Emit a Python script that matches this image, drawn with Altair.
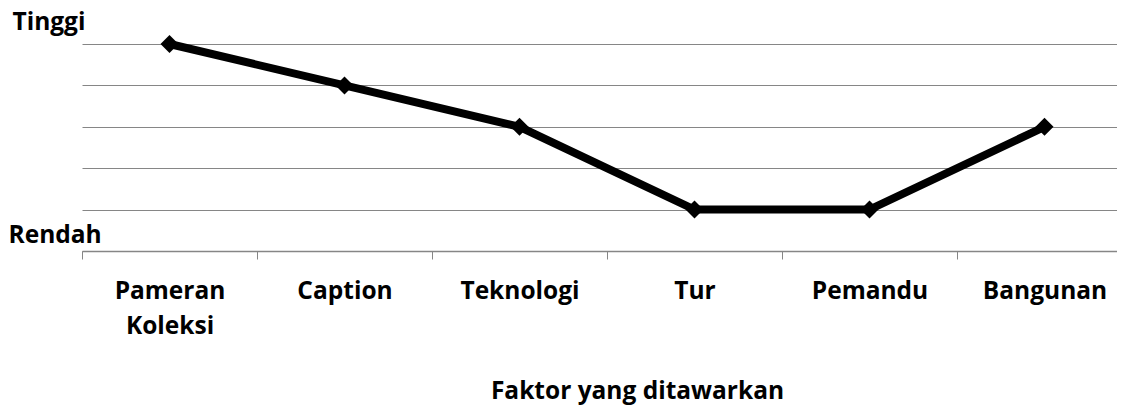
import altair as alt
import pandas as pd

categories = ["Pameran Koleksi", "Caption", "Teknologi", "Tur", "Pemandu", "Bangunan"]
values = [5, 4, 3, 1, 1, 3]
y_ticks = [0, 1, 2, 3, 4, 5]
y_top_label = "Tinggi"
y_bottom_label = "Rendah"
x_title = "Faktor yang ditawarkan"

df = pd.DataFrame({"faktor": categories, "nilai": values})

FONT = "Open Sans"
FS = 24.5
GRAY = "#868686"

x = alt.X(
    "faktor:N",
    sort=categories,
    title=x_title,
    scale=alt.Scale(type="band", paddingInner=0, paddingOuter=0, range=[0, 1050]),
    axis=alt.Axis(
        labelAngle=0,
        tickBand="extent",
        labelExpr="split(datum.label, ' ')",
        labelLineHeight=35,
        labelBaseline="alphabetic",
        labelPadding=39,
        labelOverlap=False,
        labelFont=FONT,
        labelFontSize=FS,
        labelFontWeight="bold",
        labelColor="black",
        tickSize=8,
        tickColor=GRAY,
        tickWidth=1,
        domainColor=GRAY,
        domainWidth=1.5,
        grid=False,
        titleFont=FONT,
        titleFontSize=FS,
        titleFontWeight="bold",
        titleColor="black",
        titleX=555,
        titleY=147,
        titleAlign="center",
        titleBaseline="alphabetic",
        titleAnchor="start",
    ),
)

y = alt.Y(
    "nilai:Q",
    title=None,
    scale=alt.Scale(domain=[0, 5], nice=False, zero=True),
    axis=alt.Axis(
        values=y_ticks,
        domain=False,
        ticks=False,
        tickSize=0,
        grid=True,
        gridColor=GRAY,
        gridWidth=1,
        labelExpr=f"datum.value == 5 ? '{y_top_label}' : (datum.value == 0 ? '{y_bottom_label}' : '')",
        labelAlign="left",
        labelBaseline="alphabetic",
        labelPadding={"condition": {"test": "datum.value == 5", "value": 70}, "value": 74},
        labelOffset={"condition": {"test": "datum.value == 5", "value": -15}, "value": -9},
        labelFlush=False,
        labelOverlap=False,
        labelFont=FONT,
        labelFontSize=FS,
        labelFontWeight="bold",
        labelColor="black",
    ),
)

chart = (
    alt.Chart(df)
    .mark_line(
        color="black",
        strokeWidth=8,
        point=alt.OverlayMarkDef(shape="diamond", size=324, filled=True, color="black", opacity=1),
    )
    .encode(x=x, y=y)
    .properties(
        width=1035,
        height=207,
        autosize=alt.AutoSizeParams(type="none"),
        padding={"left": 74, "top": 36, "right": 0, "bottom": 155},
    )
    .configure_view(stroke=None)
)

chart.save("out.html", embed_options={"renderer": "svg", "actions": False})
